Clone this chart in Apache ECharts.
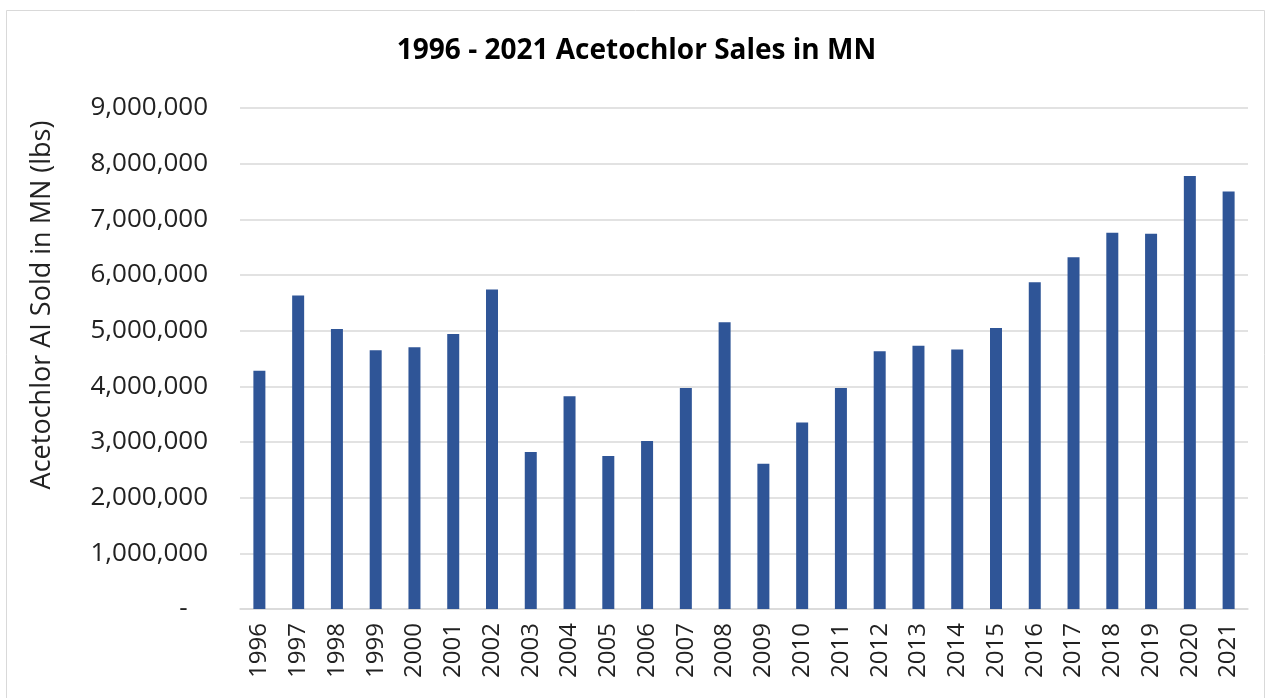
<!DOCTYPE html>
<html>
<head>
<meta charset="utf-8">
<script src="https://cdn.jsdelivr.net/npm/echarts@6/dist/echarts.min.js"></script>
<style>
  html, body { margin: 0; padding: 0; background: #fff; }
  #chart { width: 1273px; height: 698px; }
</style>
</head>
<body>
<div id="chart"></div>
<script>
// years on the x axis
var years = ['1996', '1997', '1998', '1999', '2000', '2001', '2002', '2003', '2004',
  '2005', '2006', '2007', '2008', '2009', '2010', '2011', '2012', '2013', '2014',
  '2015', '2016', '2017', '2018', '2019', '2020', '2021'];

// lbs of acetochlor sold
var sales = [4280000, 5630000, 5030000, 4650000, 4700000, 4940000, 5740000, 2820000, 3820000,
  2750000, 3020000, 3970000, 5150000, 2610000, 3350000, 3970000, 4630000, 4730000, 4660000,
  5050000, 5870000, 6320000, 6760000, 6740000, 7780000, 7500000];

var yMax = 9000000;
var yStep = 1000000;

var chart = echarts.init(document.getElementById('chart'));

var option = {
  backgroundColor: '#fff',
  animation: false,
  title: {
    text: '1996 - 2021 Acetochlor Sales in MN',
    left: 'center',
    top: 32,
    textStyle: {
      fontFamily: 'Open Sans',
      fontWeight: 'bold',
      fontSize: 28,
      color: '#000'
    }
  },
  graphic: [{
    type: 'rect',
    shape: { x: 6.5, y: 10.5, width: 1258, height: 700 },
    style: { fill: 'none', stroke: '#d9d9d9', lineWidth: 1 },
    silent: true
  }, {
    // y axis title, sits a bit above the plot centre like in the source
    type: 'text',
    x: 42,
    y: 305,
    rotation: Math.PI / 2,
    silent: true,
    style: {
      text: 'Acetochlor AI Sold in MN (lbs)',
      fontFamily: 'Open Sans',
      fontSize: 27,
      fill: '#222',
      textAlign: 'center',
      textVerticalAlign: 'middle'
    }
  }],
  grid: {
    left: 240,
    right: 25,
    top: 108,
    bottom: 89
  },
  xAxis: {
    type: 'category',
    data: years,
    axisTick: { show: false },
    axisLine: { lineStyle: { color: '#d9d9d9', width: 1.5 } },
    axisLabel: {
      rotate: 90,
      margin: 14,
      fontFamily: 'Open Sans',
      fontSize: 24,
      color: '#222'
    }
  },
  yAxis: {
    type: 'value',
    min: 0,
    max: yMax,
    interval: yStep,
    axisLine: { show: false },
    axisTick: { show: false },
    splitLine: { lineStyle: { color: '#d9d9d9', width: 1.5 } },
    axisLabel: {
      margin: 32,
      fontFamily: 'Open Sans',
      fontSize: 26,
      color: '#222',
      formatter: function (v) {
        return v === 0 ? '-   ' : v.toLocaleString('en-US');
      }
    }
  },
  series: [{
    name: 'Sales',
    type: 'bar',
    data: sales,
    barWidth: 12,
    itemStyle: { color: '#2F5597' }
  }]
};

chart.setOption(option);
</script>
</body>
</html>
